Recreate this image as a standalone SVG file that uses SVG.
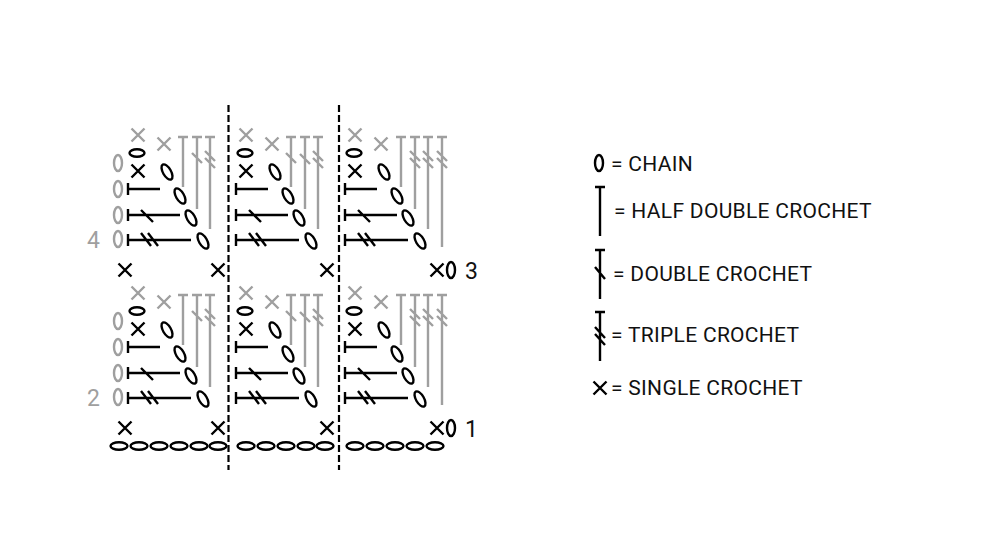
<svg xmlns="http://www.w3.org/2000/svg" xmlns:xlink="http://www.w3.org/1999/xlink" width="1000" height="560" viewBox="0 0 1000 560">
<style>
.k{stroke:#000;fill:none;stroke-width:2.4;stroke-linecap:butt}
.g{stroke:#9f9f9f;fill:none;stroke-width:2.4}
.t{font-family:Roboto,"Liberation Sans",sans-serif;font-size:21px;fill:#111;letter-spacing:0.3px}
.n{font-family:Roboto,"Liberation Sans",sans-serif;font-size:23px;fill:#111}
.tg{font-family:Roboto,"Liberation Sans",sans-serif;font-size:23px;fill:#9f9f9f}
.dash{stroke:#000;stroke-width:2.2;stroke-dasharray:7 3;fill:none}
</style>
<defs>
<path id="x" d="M-6.5,-6.5L6.5,6.5M6.5,-6.5L-6.5,6.5"/>
<ellipse id="ov" cx="0" cy="0" rx="4" ry="8"/>
<ellipse id="tov" cx="0" cy="0" rx="4" ry="8.5" transform="rotate(-30)"/>
<ellipse id="hov" cx="0" cy="0" rx="8.5" ry="3.8"/>
<g id="core">
<use href="#x" x="138" y="135" class="g"/>
<use href="#x" x="164" y="144" class="g"/>
<ellipse class="k" cx="137" cy="153" rx="7.5" ry="3.8"/>
<use href="#x" x="138" y="171" class="k"/>
<path class="k" d="M128,183V195M128,189H160"/>
<path class="k" d="M128,209V221M128,215H180M141,210L153,222"/>
<path class="k" d="M128,234V246M128,240H191M141,233L151,246M148,233L158,246"/>
<use href="#tov" x="167" y="172" class="k"/>
<use href="#tov" x="180" y="196" class="k"/>
<use href="#tov" x="191" y="218" class="k"/>
<use href="#tov" x="203" y="241" class="k"/>
</g>
<g id="half">
<g id="b1">
<use href="#ov" x="118" y="163" class="g"/>
<use href="#ov" x="118" y="189" class="g"/>
<use href="#ov" x="118" y="215" class="g"/>
<use href="#ov" x="118" y="239" class="g"/>
<use href="#core"/>
<path class="g" d="M178,137H188M183,137V187M192,137H202M197,137V209M192,153L202,163M205,137H215M210,137V229M205,151L215,161M205,158L215,168"/>
<use href="#x" x="125" y="270" class="k"/>
<use href="#x" x="218" y="270" class="k"/>
</g>
<g id="b2">
<use href="#core" transform="translate(108 0)"/>
<path class="g" d="M286,137H296M291,137V187M286,153L296,163M300,137H310M305,137V209M300,154L310,164M313,137H323M318,137V229M313,151L323,161M313,158L323,168"/>
<use href="#x" x="327" y="270" class="k"/>
</g>
<g id="b3">
<use href="#core" transform="translate(217 0)"/>
<path class="g" d="M396,137H406M401,137V187M410,137H420M415,137V209M410,151L420,161M410,158L420,168M423,137H433M428,137V229M423,151L433,161M423,158L433,168M437,137H447M442,137V247M437,151L447,161M437,158L447,168"/>
<use href="#x" x="437" y="270" class="k"/>
<use href="#ov" x="451" y="270" class="k"/>
</g>
</g>
</defs>
<g id="rows-3-4">
<use href="#half"/>
<text class="tg" x="87" y="248">4</text>
<text class="n" x="465" y="279">3</text>
</g>
<g id="rows-1-2">
<use href="#half" transform="translate(0 158)"/>
<text class="tg" x="87" y="406">2</text>
<text class="n" x="465" y="437">1</text>
</g>
<g id="foundation-chain">
<use href="#hov" x="119" y="446" class="k"/>
<use href="#hov" x="139" y="446" class="k"/>
<use href="#hov" x="159" y="446" class="k"/>
<use href="#hov" x="179" y="446" class="k"/>
<use href="#hov" x="199" y="446" class="k"/>
<use href="#hov" x="218" y="446" class="k"/>
<use href="#hov" x="246" y="446" class="k"/>
<use href="#hov" x="266" y="446" class="k"/>
<use href="#hov" x="286" y="446" class="k"/>
<use href="#hov" x="306" y="446" class="k"/>
<use href="#hov" x="325" y="446" class="k"/>
<use href="#hov" x="355" y="446" class="k"/>
<use href="#hov" x="375" y="446" class="k"/>
<use href="#hov" x="395" y="446" class="k"/>
<use href="#hov" x="415" y="446" class="k"/>
<use href="#hov" x="435" y="446" class="k"/>
</g>
<g id="repeat-lines">
<path class="dash" d="M228.5,105V470"/>
<path class="dash" d="M339,105V470"/>
</g>
<g id="legend">
<g id="leg-chain">
<use href="#ov" x="599" y="163" class="k"/>
<text class="t" x="611" y="171">= CHAIN</text>
</g>
<g id="leg-hdc">
<path class="k" d="M595,187H605M600,187V236"/>
<text class="t" x="614" y="218">= HALF DOUBLE CROCHET</text>
</g>
<g id="leg-dc">
<path class="k" d="M595,250H605M600,250V299M595,267L605,279"/>
<text class="t" x="613" y="281">= DOUBLE CROCHET</text>
</g>
<g id="leg-tr">
<path class="k" d="M595,312H605M600,312V361M595,327L605,338M595,334L605,345"/>
<text class="t" x="611" y="342">= TRIPLE CROCHET</text>
</g>
<g id="leg-sc">
<use href="#x" x="600" y="388" class="k"/>
<text class="t" x="611" y="395">= SINGLE CROCHET</text>
</g>
</g>
</svg>
